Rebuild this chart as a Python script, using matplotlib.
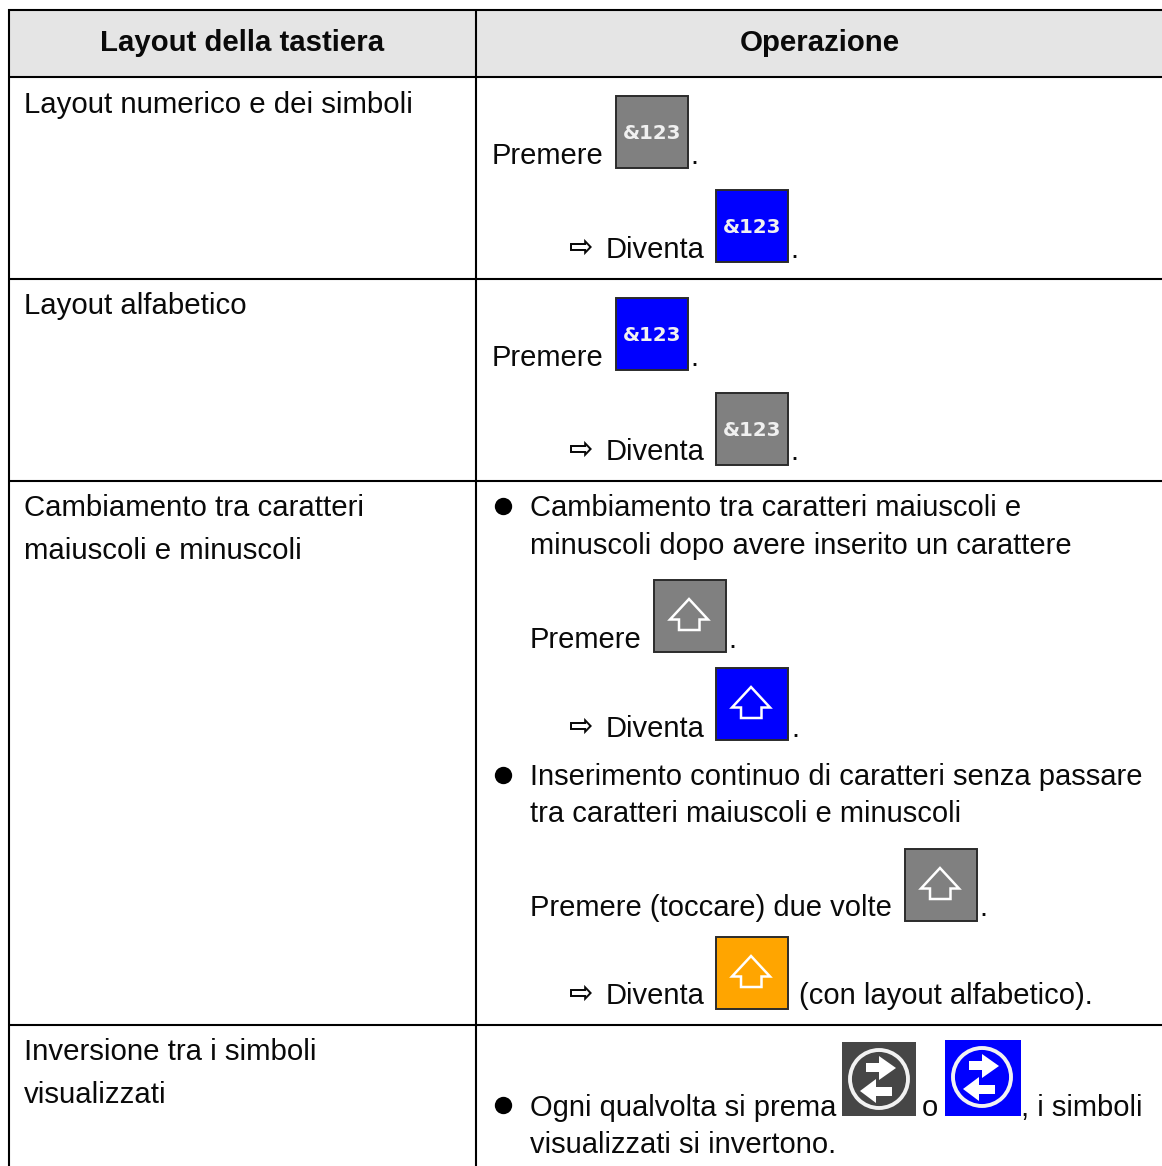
import matplotlib
matplotlib.use('Agg')
import matplotlib.pyplot as plt
from matplotlib.patches import Rectangle, Polygon, Circle

plt.rcParams['font.family'] = ['Liberation Sans', 'DejaVu Sans']

# table text
headers = ['Layout della tastiera', 'Operazione']
left_labels = ['Layout numerico e dei simboli', 'Layout alfabetico',
               'Cambiamento tra caratteri', 'maiuscoli e minuscoli',
               'Inversione tra i simboli', 'visualizzati']
bullet_lines = ['Cambiamento tra caratteri maiuscoli e',
                'minuscoli dopo avere inserito un carattere',
                'Inserimento continuo di caratteri senza passare',
                'tra caratteri maiuscoli e minuscoli',
                'Ogni qualvolta si prema', 'visualizzati si invertono.']
press = 'Premere'
press_twice = 'Premere (toccare) due volte'
becomes = 'Diventa'
arrow_glyph = '\u21e8'
key_label = '&123'
tail_text = '(con layout alfabetico).'
or_text = 'o'
swap_tail = ', i simboli'

GREY = '#808080'
BLUE = '#0000ff'
ORANGE = '#ffa500'
DARK = '#464646'
TXT = '#0a0a0a'
FS = 21.0
FS_LEFT = 21.15


def put(ax, x, y, s, **kw):
    kw.setdefault('fontsize', FS)
    kw.setdefault('color', TXT)
    ax.text(x, y, s, va='baseline', **kw)


def put_arrow(ax, y):
    ax.text(569, y, arrow_glyph, va='baseline', color=TXT, fontsize=21,
            family='DejaVu Sans', fontweight='bold')


def key(ax, x, y, color, kind):
    # 72 px square button with a thin dark border
    ax.add_patch(Rectangle((x + 0.5, y + 0.5), 72, 72, fc=color, ec='#2b2b2b', lw=1.4))
    if kind == 'text':
        ax.text(x + 37, y + 44, key_label, color='#f0f0f0', fontsize=14.2,
                family='DejaVu Sans', fontweight='bold', ha='center', va='baseline')
    else:
        shape = [(36, 20), (55, 40.5), (46.5, 40.5), (46.5, 51), (26, 51), (26, 40.5), (17, 40.5)]
        ax.add_patch(Polygon([(x + a, y + b) for a, b in shape], closed=True,
                             fc='none', ec='white', lw=1.8))


def swap_key(ax, x, y, w, h, color):
    ax.add_patch(Rectangle((x, y), w, h, fc=color, ec='none'))
    cx = x + 37
    cy = y + 37
    ax.add_patch(Circle((cx, cy), 29, fc='none', ec='#f2f2f2', lw=2.8))
    top = [(-13, -16), (0, -16), (0, -23), (17, -11), (0, 1), (0, -7), (-13, -7)]
    bot = [(13, 8), (-3, 8), (-3, 0), (-19, 12), (-3, 24), (-3, 17), (13, 17)]
    for shape in (top, bot):
        ax.add_patch(Polygon([(cx + a, cy + b) for a, b in shape], closed=True,
                             fc='white', ec='none'))


def main() -> None:
    fig = plt.figure(figsize=(11.62, 11.66), dpi=100)
    ax = fig.add_axes([0, 0, 1, 1])
    ax.set_xlim(0, 1162)
    ax.set_ylim(1166, 0)
    ax.axis('off')

    # header band and rules
    ax.add_patch(Rectangle((9, 10), 1153, 67, fc='#e5e5e5', ec='none'))
    for y in [10, 77, 279, 481, 1025]:
        ax.plot([8, 1162], [y, y], color='black', lw=1.5, solid_capstyle='butt')
    for x in [8.5, 476]:
        ax.plot([x, x], [9, 1166], color='black', lw=1.5, solid_capstyle='butt')

    put(ax, 242, 51, headers[0], fontweight='bold', ha='center', fontsize=FS_LEFT)
    put(ax, 820, 51, headers[1], fontweight='bold', ha='center', fontsize=FS_LEFT)

    # left column
    for y, s in zip([113, 314, 516, 559, 1060, 1103], left_labels):
        put(ax, 24, y, s, fontsize=FS_LEFT)

    # first row
    put(ax, 492, 164, press)
    key(ax, 615, 95, GREY, 'text')
    put(ax, 690, 164, '.')
    put_arrow(ax, 256)
    put(ax, 606, 258, becomes)
    key(ax, 715, 189, BLUE, 'text')
    put(ax, 790, 258, '.')

    # second row
    put(ax, 492, 366, press)
    key(ax, 615, 297, BLUE, 'text')
    put(ax, 690, 366, '.')
    put_arrow(ax, 458)
    put(ax, 606, 460, becomes)
    key(ax, 715, 392, GREY, 'text')
    put(ax, 790, 460, '.')

    # third row
    for y in [506, 775, 1105]:
        ax.plot(503, y, 'o', color='black', ms=12.5, mew=0)
    put(ax, 530, 516, bullet_lines[0])
    put(ax, 530, 554, bullet_lines[1])
    put(ax, 530, 648, press)
    key(ax, 653, 579, GREY, 'arrow')
    put(ax, 728, 648, '.')
    put_arrow(ax, 735)
    put(ax, 606, 737, becomes)
    key(ax, 715, 667, BLUE, 'arrow')
    put(ax, 791, 737, '.')
    put(ax, 530, 785, bullet_lines[2])
    put(ax, 530, 822, bullet_lines[3])
    put(ax, 530, 916, press_twice)
    key(ax, 904, 848, GREY, 'arrow')
    put(ax, 979, 916, '.')
    put_arrow(ax, 1002)
    put(ax, 606, 1004, becomes)
    key(ax, 715, 936, ORANGE, 'arrow')
    put(ax, 799, 1004, tail_text)

    # fourth row
    put(ax, 530, 1116, bullet_lines[4])
    swap_key(ax, 842, 1042, 74, 74, DARK)
    put(ax, 922, 1116, or_text)
    swap_key(ax, 945, 1040, 76, 76, BLUE)
    put(ax, 1021, 1116, swap_tail)
    put(ax, 530, 1153, bullet_lines[5])

    fig.savefig('out.png', dpi=100)


main()
